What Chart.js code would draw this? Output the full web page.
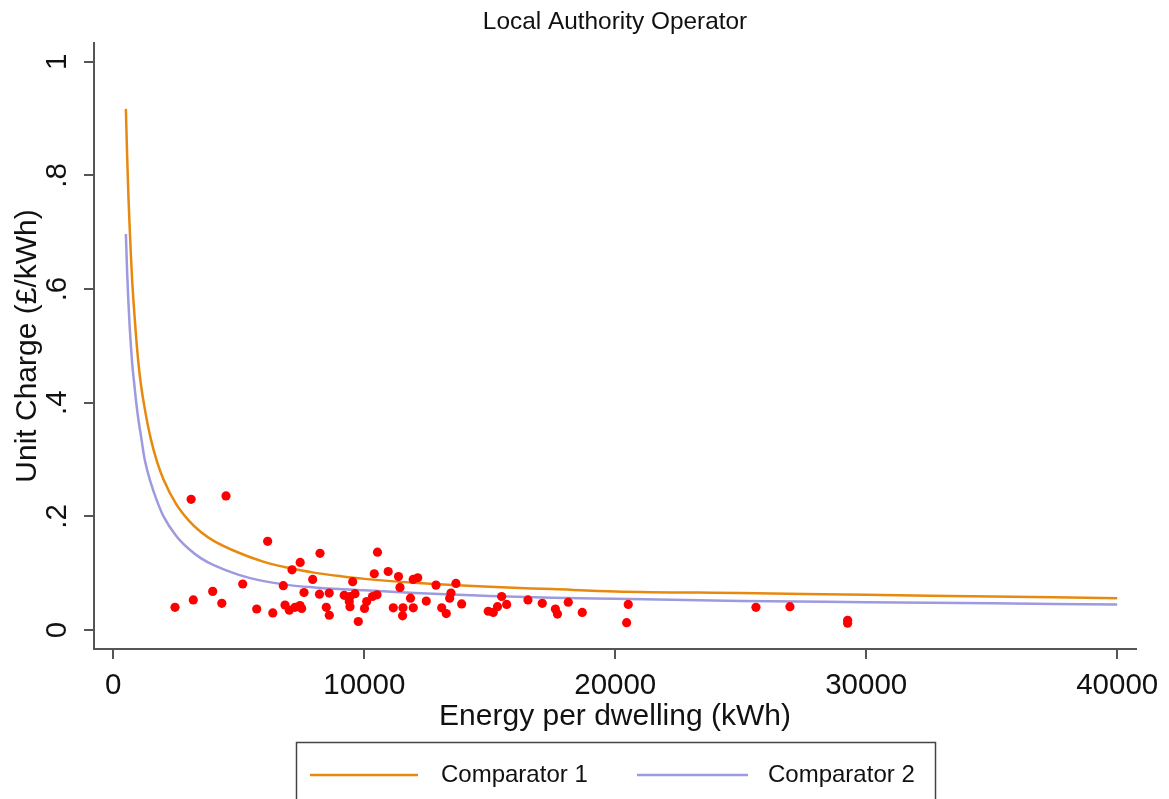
<!DOCTYPE html>
<html>
<head>
<meta charset="utf-8">
<script src="https://cdn.jsdelivr.net/npm/chart.js@4.4.1/dist/chart.umd.min.js"></script>
<style>
  html, body { margin: 0; padding: 0; background: #fff; }
  #wrap { width: 1169px; height: 799px; }
</style>
</head>
<body>
<div id="wrap"><canvas id="chart" width="1169" height="799"></canvas></div>
<script>
// --- data ---
const curveEnergy = [500, 550, 600, 650, 700, 750, 800, 900, 1000, 1100, 1250, 1500, 1750, 2000, 2500, 3000, 3500, 4000, 5000, 6000, 7000, 8000, 9000, 10000, 12000, 15000, 17500, 20000, 25000, 30000, 35000, 40000];
const comparator1 = [0.917, 0.835, 0.765, 0.71, 0.66, 0.615, 0.58, 0.52, 0.47, 0.432, 0.39, 0.335, 0.295, 0.265, 0.222, 0.193, 0.172, 0.157, 0.136, 0.120, 0.109, 0.101, 0.095, 0.090, 0.083, 0.076, 0.072, 0.068, 0.065, 0.062, 0.059, 0.056];
const comparator2 = [0.697, 0.63, 0.578, 0.535, 0.50, 0.47, 0.447, 0.405, 0.37, 0.342, 0.30, 0.258, 0.226, 0.200, 0.166, 0.143, 0.126, 0.114, 0.097, 0.086, 0.079, 0.075, 0.072, 0.070, 0.065, 0.060, 0.057, 0.055, 0.051, 0.049, 0.047, 0.045];

const dwellingEnergy = [3100, 4490, 6150, 8235, 10526, 7446, 7120, 7944, 10398, 10952, 11363, 11948, 12131, 12857, 13653, 9538, 11422, 5155, 3960, 3187,
  2458, 4323, 5713, 6355, 6773, 7598, 6841, 7012, 7239, 7438, 7506, 8215, 8602, 8486, 8606, 9199, 9430, 9630, 9402, 9430,
  9761, 10096, 10008, 10327, 10506, 11155, 11542, 11526, 11841, 11952, 12470, 13084, 13267, 13454, 13402, 13880, 14940, 15139, 15307, 15474,
  15673, 16522, 17092, 17614, 17697, 18127, 18685, 20518, 20454, 25606, 26960, 29259, 29259];
const unitCharge = [0.230, 0.236, 0.156, 0.135, 0.137, 0.119, 0.106, 0.089, 0.099, 0.103, 0.094, 0.089, 0.092, 0.079, 0.082, 0.085, 0.075, 0.081, 0.068, 0.053,
  0.040, 0.047, 0.037, 0.030, 0.078, 0.066, 0.044, 0.035, 0.040, 0.043, 0.038, 0.063, 0.065, 0.040, 0.026, 0.061, 0.059, 0.064, 0.050, 0.041,
  0.015, 0.050, 0.038, 0.059, 0.062, 0.039, 0.039, 0.025, 0.056, 0.039, 0.051, 0.039, 0.029, 0.065, 0.056, 0.046, 0.033, 0.031, 0.041, 0.059,
  0.045, 0.053, 0.047, 0.037, 0.028, 0.049, 0.031, 0.045, 0.013, 0.040, 0.041, 0.017, 0.012];

const xTicks = [0, 10000, 20000, 30000, 40000];
const yTicks = [0, 0.2, 0.4, 0.6, 0.8, 1];
const yTickLabels = ['0', '.2', '.4', '.6', '.8', '1'];

const FONT = '"Liberation Sans", Arial, sans-serif';
const AXIS = '#555';
const TEXT = '#111';

const toPoints = (xs, ys) => xs.map((x, i) => ({x: x, y: ys[i]}));

// legend drawn as a framed box under the axis title (Stata style)
const boxLegend = {
  id: 'boxLegend',
  afterDraw(chart) {
    const ctx = chart.ctx;
    ctx.save();
    ctx.strokeStyle = '#444';
    ctx.lineWidth = 1.5;
    ctx.strokeRect(296.5, 742.5, 639, 80);
    const items = [
      {ds: chart.data.datasets[1], x0: 310, x1: 418, tx: 441},
      {ds: chart.data.datasets[2], x0: 637, x1: 748, tx: 768}
    ];
    ctx.font = '24px ' + FONT;
    ctx.textBaseline = 'middle';
    ctx.textAlign = 'left';
    items.forEach(it => {
      ctx.strokeStyle = it.ds.borderColor;
      ctx.lineWidth = 2.5;
      ctx.beginPath();
      ctx.moveTo(it.x0, 775);
      ctx.lineTo(it.x1, 775);
      ctx.stroke();
      ctx.fillStyle = TEXT;
      ctx.fillText(it.ds.label, it.tx, 775);
    });
    ctx.restore();
  }
};

new Chart(document.getElementById('chart'), {
  type: 'scatter',
  data: {
    datasets: [
      {
        label: 'Unit charge',
        data: toPoints(dwellingEnergy, unitCharge),
        backgroundColor: '#ff0000',
        borderColor: '#ff0000',
        pointRadius: 4.6,
        pointBorderWidth: 0
      },
      {
        label: 'Comparator 1',
        data: toPoints(curveEnergy, comparator1),
        showLine: true,
        borderColor: '#e8890f',
        borderWidth: 2.5,
        pointRadius: 0,
        cubicInterpolationMode: 'monotone'
      },
      {
        label: 'Comparator 2',
        data: toPoints(curveEnergy, comparator2),
        showLine: true,
        borderColor: '#9d9ae0',
        borderWidth: 2.5,
        pointRadius: 0,
        cubicInterpolationMode: 'monotone'
      }
    ]
  },
  options: {
    responsive: false,
    animation: false,
    devicePixelRatio: 1,
    layout: {padding: {left: 0, right: 33, top: 0, bottom: 0}},
    plugins: {
      legend: {display: false},
      tooltip: {enabled: false},
      title: {
        display: true,
        text: 'Local Authority Operator',
        fullSize: false,
        color: TEXT,
        font: {family: FONT, size: 24.4, weight: 'normal'},
        padding: {top: 8, bottom: 5.7}
      }
    },
    scales: {
      x: {
        type: 'linear',
        min: -770,
        max: 40750,
        afterBuildTicks: s => { s.ticks = xTicks.map(v => ({value: v})); },
        afterFit: s => { s.height = 150; },
        ticks: {
          color: TEXT,
          font: {family: FONT, size: 29.5},
          padding: 9,
          maxRotation: 0,
          callback: v => String(v)
        },
        grid: {display: true, drawOnChartArea: false, drawTicks: true, tickLength: 10, color: AXIS, lineWidth: 2},
        border: {display: true, color: AXIS, width: 2},
        title: {
          display: true,
          text: 'Energy per dwelling (kWh)',
          color: TEXT,
          font: {family: FONT, size: 30},
          padding: {top: 0, bottom: 64}
        }
      },
      y: {
        type: 'linear',
        min: -0.0334,
        max: 1.033,
        afterBuildTicks: s => { s.ticks = yTicks.map(v => ({value: v})); },
        afterFit: s => { s.width = 94; },
        ticks: {
          color: TEXT,
          font: {family: FONT, size: 29.5},
          padding: 14,
          minRotation: 90,
          maxRotation: 90,
          crossAlign: 'center',
          callback: (v, i) => yTickLabels[i]
        },
        grid: {display: true, drawOnChartArea: false, drawTicks: true, tickLength: 10, color: AXIS, lineWidth: 2},
        border: {display: true, color: AXIS, width: 2},
        title: {
          display: true,
          text: 'Unit Charge (£/kWh)',
          color: TEXT,
          font: {family: FONT, size: 30},
          padding: {top: 10, bottom: 0}
        }
      }
    }
  },
  plugins: [boxLegend]
});
</script>
</body>
</html>
